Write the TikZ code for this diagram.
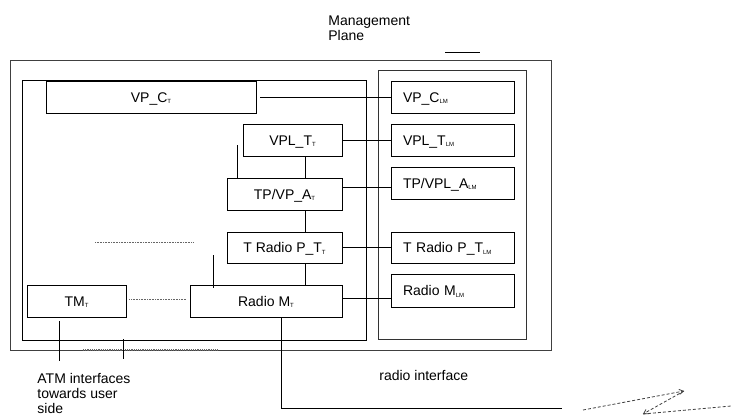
\documentclass[tikz,border=0pt]{standalone}
\usepackage{fontspec}
\setmainfont{Liberation Sans}
\usetikzlibrary{arrows.meta}
% small lowered index used in the block names
\newcommand{\lowidx}[1]{{\fontsize{6}{6}\selectfont\raisebox{-1.6pt}{#1}}}
\begin{document}
\begin{tikzpicture}[x=1pt,y=-1pt,
  line width=0.8pt,
  every node/.style={font=\fontsize{14}{15}\selectfont},
  blk/.style={draw, rectangle, inner sep=0pt, text height=10pt, text depth=0pt, minimum height=#1},
  blk/.default=32pt,
  lmblk/.style={draw, rectangle, inner xsep=12pt, inner ysep=0pt, text width=99pt, align=left,
                text height=10pt, text depth=0pt, minimum height=32pt},
  frame/.style={draw=black!75, line width=1pt},
  dots/.style={densely dotted, line width=0.6pt, draw=black!60},
  radio/.style={densely dashed, line width=0.8pt, draw=black!75},
  label/.style={anchor=base west, align=left, inner sep=0pt}
]
\useasboundingbox (0,0) rectangle (731,416);

% enclosing frames
\draw[frame] (10,60) rectangle (551,350);
\draw (22,80) rectangle (366,340);
\draw[draw=black!80] (378,70) rectangle (526,339);
\draw (445,52) -- (480,52);

% management plane caption (base = baseline of the last line)
\node[label] (mp) at (328,40) {Management\\Plane};

% transmission side blocks
\node[blk, minimum width=210pt] (vpc)  at (151,97)   {VP\_C\lowidx{T}};
\node[blk, minimum width=99pt]  (vplt) at (292.5,140) {VPL\_T\lowidx{T}};
\node[blk, minimum width=115pt] (tpa)  at (284.5,194) {TP/VP\_A\lowidx{T}};
\node[blk, minimum width=115pt, minimum height=31pt] (trp) at (284.5,247.5) {T Radio P\_T\lowidx{T}};
\node[blk, minimum width=152pt] (rm)   at (266,301)  {Radio M\lowidx{T}};
\node[blk, minimum width=99pt]  (tm)   at (76.5,301) {TM\lowidx{T}};

% layer management blocks
\node[lmblk] (vpclm)  at (452.5,97)    {VP\_C\lowidx{LM}};
\node[lmblk] (vpltlm) at (452.5,140)   {VPL\_T\lowidx{LM}};
\node[lmblk] (tpalm)  at (452.5,183)   {TP/VPL\_A\lowidx{LM}};
\node[lmblk, minimum height=31pt] (trplm) at (452.5,247.5) {T Radio P\_T\lowidx{LM}};
\node[lmblk, minimum height=33pt] (rmlm)  at (452.5,290.5) {Radio M\lowidx{LM}};

% management connections
\draw ([xshift=4pt]vpc.east) -- (vpclm.west);
\draw (vplt.east) -- (vpltlm.west);
\draw ([yshift=7pt]tpa.east) coordinate (ta) -- (ta -| tpalm.west);
\draw (trp.east) -- (trplm.west);
\draw ([yshift=3pt]rm.east) coordinate (ra) -- (ra -| rmlm.west);

% vertical stack connections
\coordinate (spine) at (305,0);
\draw (vplt.south -| spine) -- (tpa.north -| spine);
\draw (tpa.south -| spine) -- (trp.north -| spine);
\draw (trp.south -| spine) -- (rm.north -| spine);
\coordinate (s1) at (237,145);
\draw (s1) -- (s1 |- tpa.north);
\coordinate (s2) at (213,255);
\draw (s2) -- ([yshift=-3pt]s2 |- rm.north);

% dotted links
\coordinate (d1a) at (95,242);
\coordinate (d1b) at (193,242);
\draw[dots] (d1a) -- (d1b);
\draw[dots] ([xshift=3pt]tm.east |- 0,299) -- ([xshift=-4pt]rm.west |- 0,299);
\coordinate (d3a) at (83,350);
\coordinate (d3b) at (218,350);
\draw[dots, line width=1.2pt] (d3a) -- (d3b);

% user side interfaces
\coordinate (u1a) at (59,321);
\coordinate (u1b) at (59,361);
\draw (u1a) -- (u1b);
\coordinate (u2a) at (123,339);
\coordinate (u2b) at (123,359);
\draw (u2a) -- (u2b);
\node[label] (atm) at (37,413) {ATM interfaces\\towards user\\side};

% radio interface
\coordinate (rbend) at (281,408);
\coordinate (rend) at (562,408);
\draw (rm.south -| rbend) -- (rbend) -- (rend);
\node[label] (ri) at (379,380) {radio interface};

% radio link symbol
\coordinate (z0) at (583,410);
\coordinate (z1) at (684,391);
\coordinate (z2) at (643,414);
\coordinate (z3) at (731,406);
\draw[radio, -{Straight Barb[length=4pt,width=5pt]}] (z0) -- (z1);
\draw[radio, -{Straight Barb[length=4pt,width=5pt]}] (z1) -- (z2);
\draw[radio] (z2) -- (z3);
\end{tikzpicture}
\end{document}
